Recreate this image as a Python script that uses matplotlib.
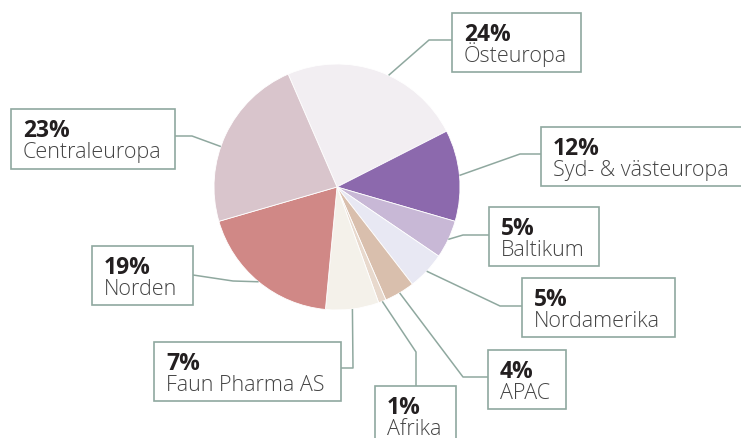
import numpy as np
import matplotlib
matplotlib.use("Agg")
import matplotlib.pyplot as plt
from matplotlib.patches import Rectangle

# data, clockwise from the top
regions = ["Östeuropa", "Syd- & västeuropa", "Baltikum", "Nordamerika", "APAC",
           "Afrika", "Faun Pharma AS", "Norden", "Centraleuropa"]
shares = [24, 12, 5, 5, 4, 1, 7, 19, 23]
colors = ["#F2EEF2", "#8C69AD", "#C8B8D6", "#E8E8F3", "#D9BFAD",
          "#E8D9CD", "#F4F1EA", "#D08886", "#D9C5CC"]

# label boxes in pixel coords (x0, y0, x1, y1), y measured from the top
boxes = [(452, 13, 581, 72), (541, 127, 745, 186), (489, 207, 599, 266),
         (522, 278, 675, 337), (488, 350, 566, 409), (375, 386, 456, 445),
         (154, 342, 341, 401), (92, 246, 193, 305), (11, 109, 175, 169)]
# leader line: elbow point and end point on the box
elbows = [(429, 40), (520, 154), (463, 235), (500, 306), (463, 377),
          (416, 352), (353, 368), (233, 281), (192, 136)]
ends = [(452, 40), (541, 154), (489, 235), (522, 306), (488, 377),
        (416, 386), (341, 368), (193, 275), (175, 136)]
# small shift of where the leader leaves the wedge (degrees)
nudge = [-5, 0, 0, 0, 0, 0, 0, 0, 6]

W, H = 741, 438
cx, cy, r = 337, 187, 123
start = 113.4
line_col = "#8FA89F"

plt.rcParams['font.family'] = ['Open Sans', 'DejaVu Sans']

fig = plt.figure(figsize=(W / 100, H / 100), dpi=100)
ax = fig.add_axes([0, 0, 1, 1])

wedges, _ = ax.pie(shares, colors=colors, startangle=start, counterclock=False,
                   center=(cx, H - cy), radius=r,
                   wedgeprops=dict(linewidth=0.6, edgecolor="white"))
ax.set_xlim(0, W)
ax.set_ylim(0, H)
ax.set_aspect("auto")
ax.axis("off")

for w, name, pct, box, elb, end, dn in zip(wedges, regions, shares, boxes,
                                           elbows, ends, nudge):
    mid = np.deg2rad((w.theta1 + w.theta2) / 2 + dn)
    sx = cx + r * np.cos(mid)
    sy = (H - cy) + r * np.sin(mid)
    ax.plot([sx, elb[0], end[0]], [sy, H - elb[1], H - end[1]],
            color=line_col, lw=1.1, solid_capstyle="butt", zorder=1)
    x0, y0, x1, y1 = box
    ax.add_patch(Rectangle((x0, H - y1), x1 - x0, y1 - y0, facecolor="white",
                           edgecolor=line_col, lw=1.2, zorder=2))
    ax.text(x0 + 12, H - (y0 + 28), f"{pct}%", fontsize=16.5, fontweight="bold",
            color="#231F20", va="baseline", ha="left", zorder=3)
    ax.text(x0 + 12, H - (y0 + 49), name, fontsize=15.5, fontweight="light",
            color="#444444", va="baseline", ha="left", zorder=3)

fig.savefig("out.png", dpi=100)
